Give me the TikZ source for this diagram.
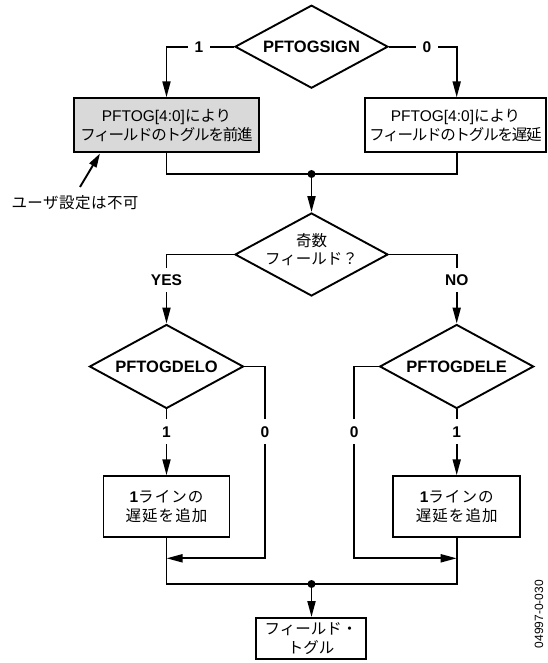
\documentclass[tikz,border=0pt]{standalone}
\usepackage{fontspec}
\setmainfont{Liberation Sans}
\newfontfamily\jp{Noto Sans CJK JP}
\newfontfamily\jpn[LetterSpace=-8]{Noto Sans CJK JP}
\newfontfamily\jpw[LetterSpace=7]{Noto Sans CJK JP}
\newfontfamily\jps[LetterSpace=3]{Noto Sans CJK JP}
\usetikzlibrary{shapes.geometric,arrows.meta}
\tikzset{
  ln/.style={line width=1.9pt},
  arr/.style={ln,-{Triangle[width=8pt,length=16pt]}},
  dia/.style={draw,diamond,line width=1.9pt,aspect=2,inner sep=0pt},
  boxn/.style={draw,line width=1.9pt,inner sep=0pt,align=center,
    font=\fontsize{15.5}{19}\selectfont},
  dtxt/.style={font=\bfseries\fontsize{16.5}{19}\selectfont,inner sep=0pt},
  lab/.style={font=\bfseries\fontsize{15.5}{18}\selectfont,fill=white,inner xsep=7pt,inner ysep=7pt},
  jtxt/.style={font=\fontsize{15.5}{18.5}\selectfont,align=center,inner sep=0pt},
  dot/.style={circle,fill=black,inner sep=0pt,minimum size=8pt}
}
\begin{document}
\begin{tikzpicture}[x=1pt,y=-1pt]
\useasboundingbox (0,0) rectangle (547,663);

% top decision
\node[dia,minimum width=153pt,minimum height=83pt] (d1) at (311.5,46.7) {};
\node[dtxt] (t1) at (d1.center) {PFTOGSIGN};

\node[boxn,fill=black!15,minimum width=185pt,minimum height=54pt] (b1) at (166.5,125.3)
  {PFTOG[4:0]{\jp により}\\{\jpn フィールドのトグルを前進}};
\node[boxn,minimum width=181pt,minimum height=54pt] (b2) at (455.5,125.3)
  {PFTOG[4:0]{\jp により}\\{\jpn フィールドのトグルを遅延}};
\coordinate (xr) at (456.7,0);

\draw[arr] (d1.west) -| (b1.north);
\draw[arr] (d1.east) -| (b2.north -| xr);
\node[lab] (l1) at (199,46.7) {1};
\node[lab] (l0) at (427,46.7) {0};

% merge 1
\coordinate (m1) at (311.5,174);
\draw[ln] (b1.south) |- (m1) -| (b2.south -| xr);
\node[dot] (m1d) at (m1) {};

% annotation
\coordinate (a0) at (80,187);
\coordinate (a1) at (100,153.5);
\draw[ln,-{Triangle[width=8pt,length=14pt]}] (a0) -- (a1);
\node[jtxt] (note) at (75,203) {{\jps ユーザ設定は不可}};

% second decision
\node[dia,minimum width=153pt,minimum height=83pt] (d2) at (311.5,254.5) {};
\node[jtxt] (t2) at (311.5,249.5) {{\jp 奇数}\\{\jp フィールド？}};
\draw[arr] (m1d) -- (d2.north);

\node[dia,minimum width=154pt,minimum height=84pt] (d3) at (166.5,366.5) {};
\node[dtxt] (t3) at (d3.center) {PFTOGDELO};
\node[dia,minimum width=154pt,minimum height=84pt] (d4) at (456.7,366.5) {};
\node[dtxt] (t4) at (d4.center) {PFTOGDELE};

\draw[arr] (d2.west) -| (d3.north);
\draw[arr] (d2.east) -| (d4.north);
\node[lab] (lyes) at (166.5,280) {YES};
\node[lab] (lno) at (456.7,280) {NO};

% delay boxes
\node[boxn,minimum width=126pt,minimum height=61pt] (b3) at (166.5,506.7)
  {\textbf{1}{\jpw ラインの}\\{\jpw 遅延を追加}};
\node[boxn,minimum width=127pt,minimum height=61pt] (b4) at (456.7,506.7)
  {\textbf{1}{\jpw ラインの}\\{\jpw 遅延を追加}};

\draw[arr] (d3.south) -- (b3.north);
\draw[arr] (d4.south) -- (b4.north);

\coordinate (c3) at (265,558.3);
\coordinate (c4) at (354.3,558.3);
\draw[arr] (d3.east) -| (c3) -- (c3 -| b3.south);
\draw[arr] (d4.west) -| (c4) -- (c4 -| b4.south);

\node[lab] (l31) at (166.5,431.7) {1};
\node[lab] (l30) at (265,431.7) {0};
\node[lab] (l40) at (354.3,431.7) {0};
\node[lab] (l41) at (456.7,431.7) {1};

% merge 2
\coordinate (m2) at (311.5,584);
\draw[ln] (b3.south) |- (m2) -| (b4.south);
\node[dot] (m2d) at (m2) {};

\node[boxn,minimum width=110pt,minimum height=41pt] (b5) at (311,638.5)
  {{\jp フィールド・}\\{\jp トグル}};
\draw[arr] (m2d) -- (m2 |- b5.north);

\node[rotate=90,font=\fontsize{12}{14}\selectfont,inner sep=0pt] (fig) at (539,614) {04997-0-030};
\end{tikzpicture}
\end{document}
